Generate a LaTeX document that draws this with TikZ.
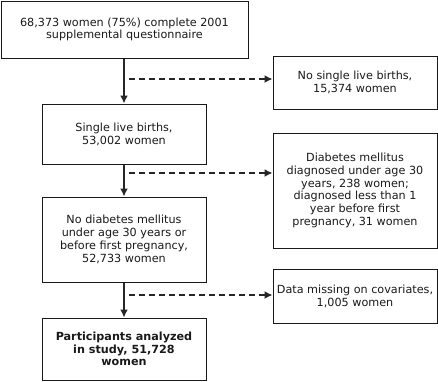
\documentclass[tikz,border=0pt]{standalone}
\usepackage{fontspec}
\setmainfont{DejaVu Sans}
\usetikzlibrary{arrows.meta}
\begin{document}
\begin{tikzpicture}[x=1pt,y=-1pt,
  box/.style={draw=black!90, line width=1pt, inner sep=0pt, align=center,
    font=\fontsize{11.2}{12.8}\selectfont, text=black!90},
  flow/.style={line width=1.8pt, draw=black!85, -{Latex[length=8pt,width=8pt]}},
  side/.style={line width=1.5pt, draw=black!85, dash pattern=on 6pt off 4pt, -{Latex[length=8pt,width=8pt]}}]
\useasboundingbox (0,0) rectangle (438,381);
\node[box, minimum width=247pt, minimum height=57pt] (b1) at (124.5,29.5) {68,373 women (75\%) complete 2001\\supplemental questionnaire};
\node[box, minimum width=164pt, minimum height=60pt] (b3) at (124,134) {Single live births,\\53,002 women};
\node[box, minimum width=164pt, minimum height=85pt] (b5) at (124,239.5) {No diabetes mellitus\\under age 30 years or\\before first pregnancy,\\52,733 women};
\node[box, minimum width=164pt, minimum height=62pt] (b6) at (124,349) {\bfseries Participants analyzed\\\bfseries in study, 51,728\\\bfseries women};
\node[box, minimum width=164pt, minimum height=53pt] (b2) at (355,82.5) {No single live births,\\15,374 women};
\node[box, minimum width=164pt, minimum height=115pt] (b4) at (355,190.5) {Diabetes mellitus\\diagnosed under age 30\\years, 238 women;\\diagnosed less than 1\\year before first\\pregnancy, 31 women};
\node[box, minimum width=164pt, minimum height=54pt] (b7) at (355,296) {Data missing on covariates,\\1,005 women};
\draw[flow] (b1.south -| b3.north) -- (b3.north);
\draw[flow] (b3.south) -- (b5.north);
\draw[flow] (b5.south) -- (b6.north);
\coordinate (d1) at (129,79);
\coordinate (d2) at (129,173);
\coordinate (d3) at (129,295);
\draw[side] (d1) -- (d1 -| b2.west);
\draw[side] (d2) -- (d2 -| b4.west);
\draw[side] (d3) -- (d3 -| b7.west);
\end{tikzpicture}
\end{document}
